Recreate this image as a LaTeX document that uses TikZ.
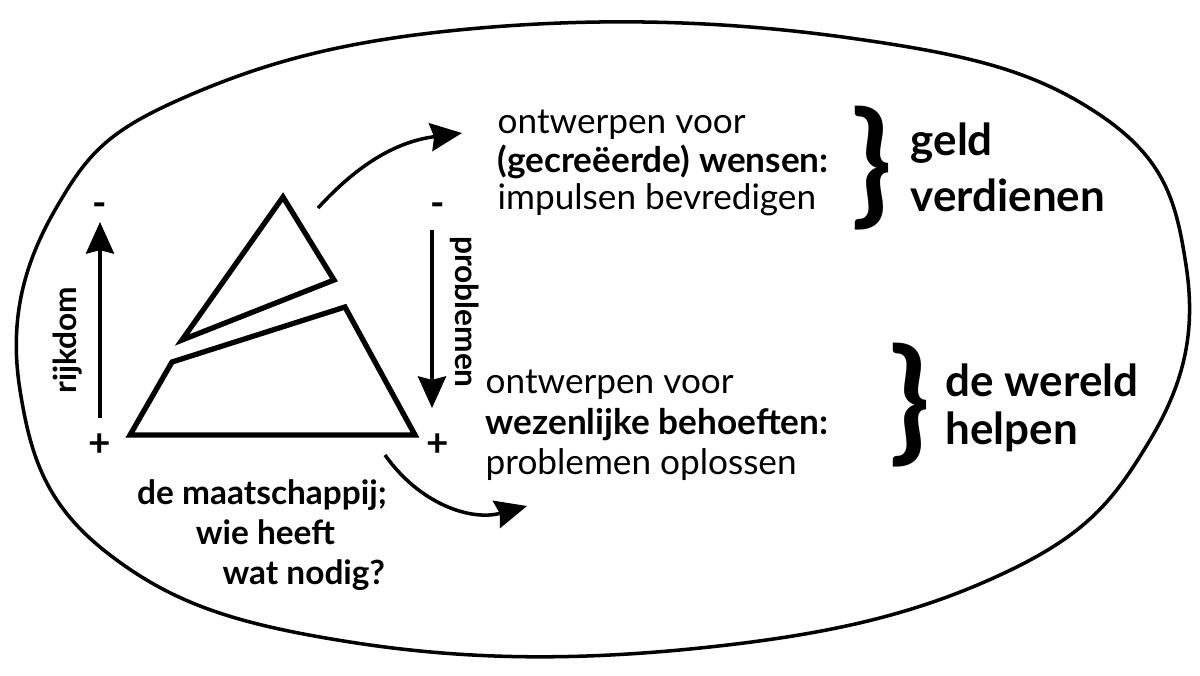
\documentclass[tikz,border=0pt]{standalone}
\usepackage{fontspec}
\setmainfont{Lato}
\usetikzlibrary{arrows.meta}
\tikzset{
  txt/.style={anchor=west,inner sep=0pt,font=\fontsize{10}{11}\selectfont},
  big/.style={anchor=west,inner sep=0pt,font=\bfseries\fontsize{12.5}{15}\selectfont},
  brace/.style={inner sep=0pt,font=\bfseries\fontsize{38}{38}\selectfont},
  pm/.style={inner sep=0pt,font=\bfseries\fontsize{11}{11}\selectfont},
  arr/.style={-{Stealth[length=9pt,width=8pt,inset=1pt]},line width=1pt},
  tri/.style={line width=1.5pt,line join=miter}
}
\begin{document}
\begin{tikzpicture}[x=0.01cm,y=-0.01cm]
  \useasboundingbox (0,0) rectangle (1200,675);
  % outer blob
  \draw[line width=1pt] plot[smooth cycle,tension=0.7] coordinates
    {(20,390) (55,210) (190,95) (480,28) (850,38) (1100,115) (1186,265)
     (1150,440) (1000,575) (700,648) (350,642) (110,555)};
  % pyramid
  \draw[tri] (182,340) -- (283,197) -- (334,280) -- cycle;
  \draw[tri] (172,362) -- (345,307) -- (415,435) -- (130,435) -- cycle;
  % left axis
  \node[pm] (lp) at (100,445) {+};
  \node[pm] (lm) at (100,210) {-};
  \coordinate (lb) at (100,418);
  \coordinate (lt) at (100,222);
  \draw[arr] (lb) -- (lt);
  \node[rotate=90,font=\bfseries\fontsize{9}{10}\selectfont] (rijk) at (68,340) {rijkdom};
  % right axis
  \node[pm] (rp) at (438,445) {+};
  \node[pm] (rm) at (438,210) {-};
  \coordinate (rt) at (432,230);
  \coordinate (rb) at (432,408);
  \draw[arr] (rt) -- (rb);
  \node[rotate=-90,font=\bfseries\fontsize{9}{10}\selectfont] (probl) at (465,312) {problemen};
  % curved arrows
  \coordinate (ua) at (318,208);
  \coordinate (ub) at (462,133);
  \draw[arr] (ua) to[bend left=20] (ub);
  \coordinate (la) at (385,455);
  \coordinate (lb2) at (527,506);
  \draw[arr] (la) to[bend right=35] (lb2);
  % upper text
  \node[txt] (t1) at (497,125) {ontwerpen voor};
  \node[txt,font=\bfseries\fontsize{10}{11}\selectfont] (t2) at (497,162) {(gecreëerde) wensen:};
  \node[txt] (t3) at (497,200) {impulsen bevredigen};
  \node[brace] (b1) at (872,168) {\}};
  \node[big] (g1) at (910,143) {geld};
  \node[big] (g2) at (910,195) {verdienen};
  % lower text
  \node[txt] (s1) at (485,385) {ontwerpen voor};
  \node[txt,font=\bfseries\fontsize{10}{11}\selectfont] (s2) at (485,425) {wezenlijke behoeften:};
  \node[txt] (s3) at (485,465) {problemen oplossen};
  \node[brace] (b2) at (910,405) {\}};
  \node[big] (w1) at (945,380) {de wereld};
  \node[big] (w2) at (945,432) {helpen};
  % society
  \node[align=center,inner sep=0pt,font=\bfseries\fontsize{9.5}{11.4}\selectfont] (soc) at (262,535)
    {de maatschappij;\\\hspace{0.2em}wie heeft\\\hspace{2.5em}wat nodig?};
\end{tikzpicture}
\end{document}
